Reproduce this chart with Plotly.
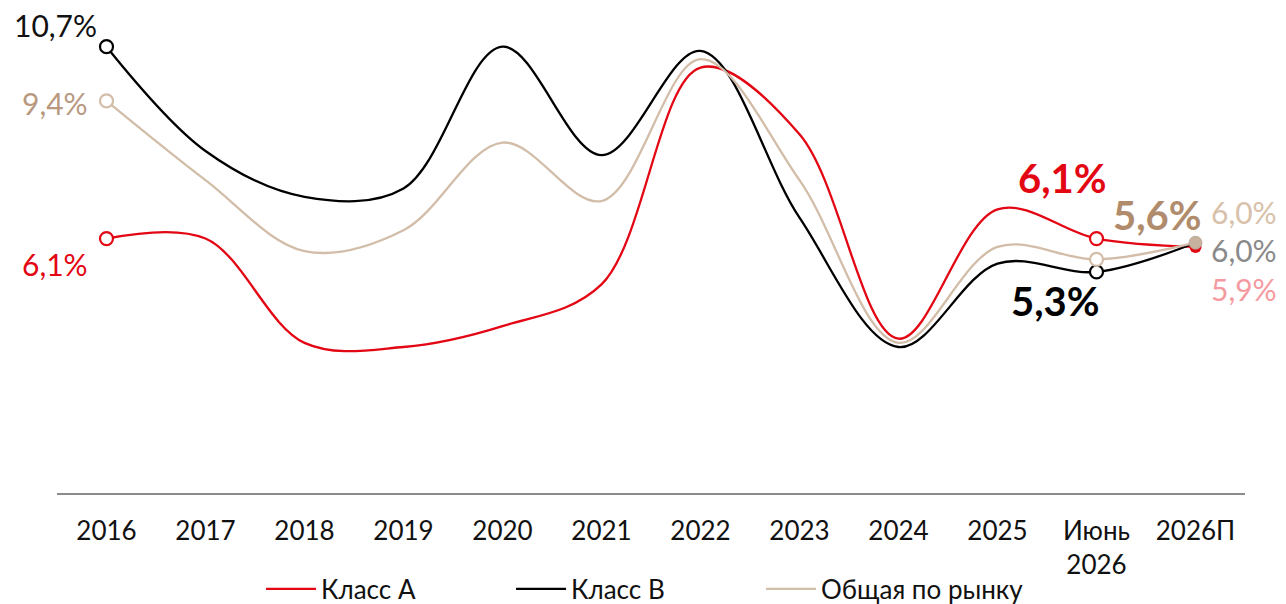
import plotly.graph_objects as go

categories = ["2016", "2017", "2018", "2019", "2020", "2021", "2022", "2023",
              "2024", "2025", "Июнь<br>2026", "2026П"]
class_a = [6.1, 6.1, 3.6, 3.5, 4.0, 5.0, 10.2, 8.6, 3.7, 6.8, 6.1, 5.9]
class_b = [10.7, 8.2, 7.1, 7.3, 10.7, 8.1, 10.6, 6.6, 3.5, 5.5, 5.3, 6.0]
market = [9.4, 7.5, 5.8, 6.3, 8.4, 7.0, 10.4, 7.5, 3.6, 5.9, 5.6, 6.0]
series_names = ["Класс А", "Класс В", "Общая по рынку"]

RED = "#e30613"
BLACK = "#000000"
TAN = "#d2bda9"
FONT = "Lato"

def fmt(v):
    return f"{v:.1f}%".replace(".", ",")

fig = go.Figure()
for name, vals, col, lg in zip(series_names, [class_a, class_b, market],
                               [RED, BLACK, TAN], ["legend", "legend", "legend2"]):
    fig.add_trace(go.Scatter(
        x=categories, y=vals, name=name, mode="lines", legend=lg,
        line=dict(color=col, width=2.3, shape="spline", smoothing=1.0),
        hoverinfo="skip"))

# open markers at first and June points
open_idx = [0, 10]
for vals, col in zip([class_a, class_b, market], [RED, BLACK, TAN]):
    fig.add_trace(go.Scatter(
        x=[categories[i] for i in open_idx], y=[vals[i] for i in open_idx],
        mode="markers", showlegend=False, hoverinfo="skip",
        marker=dict(size=13, color="white", line=dict(color=col, width=2.2))))

# filled markers at the forecast point
last = len(categories) - 1
fig.add_trace(go.Scatter(x=[categories[last]], y=[class_a[last]], mode="markers",
                         showlegend=False, hoverinfo="skip",
                         marker=dict(size=12, color=RED, line=dict(width=0))))
fig.add_trace(go.Scatter(x=[categories[last]], y=[market[last]], mode="markers",
                         showlegend=False, hoverinfo="skip",
                         marker=dict(size=13, color="#c6b29f", line=dict(color="#b5a18e", width=0.8))))

def ann(i, vals, color, xshift, yshift, size=30, bold=False, anchor="center"):
    txt = fmt(vals[i])
    if bold:
        txt = "<b>" + txt + "</b>"
    # category index used as x position on the category axis
    fig.add_annotation(x=i, y=vals[i], xref="x", yref="y", text=txt,
                       showarrow=False, xanchor=anchor, yanchor="middle",
                       xshift=xshift, yshift=yshift,
                       font=dict(family=FONT, size=size, color=color))

# 2016 labels
ann(0, class_b, "#111111", -8, 22, anchor="right")
ann(0, market, "#b8997f", -17, -2, anchor="right")
ann(0, class_a, RED, -17, -25, anchor="right")
# June 2026 labels
ann(10, class_a, RED, -34, 61, size=40, bold=True)
ann(10, market, "#b08c6d", 61, 44, size=40, bold=True)
ann(10, class_b, BLACK, -41, -29, size=40, bold=True)
# forecast labels
ann(last, market, "#d8c1aa", 13, 31, anchor="left")
ann(last, class_b, "#8a8a8a", 13, -7, anchor="left")
ann(last, class_a, "#f49aa0", 13, -42, anchor="left")

legend_common = dict(orientation="h", xref="container", yref="container",
                     xanchor="left", y=0.025, yanchor="middle", itemwidth=50,
                     font=dict(family=FONT, size=26, color="#111111"),
                     bgcolor="rgba(0,0,0,0)")

fig.update_layout(
    width=1286, height=604,
    margin=dict(l=57, r=41, t=30, b=111, autoexpand=False),
    paper_bgcolor="white", plot_bgcolor="white",
    font=dict(family=FONT, size=26, color="#111111"),
    showlegend=True,
    legend=dict(x=0.203, entrywidth=185, entrywidthmode="pixels", **legend_common),
    legend2=dict(x=0.203 + 500 / 1286, **legend_common),
    xaxis=dict(type="category", range=[-0.5, 11.5], showgrid=False, zeroline=False,
               showline=True, linecolor="#8c8c8c", linewidth=1.5, ticks="",
               ticklabelstandoff=14, automargin=False,
               tickfont=dict(family=FONT, size=26, color="#111111"), fixedrange=True),
    yaxis=dict(range=[0, 11.1], visible=False, showgrid=False, zeroline=False,
               automargin=False, fixedrange=True),
)

fig.write_html("out.html")
